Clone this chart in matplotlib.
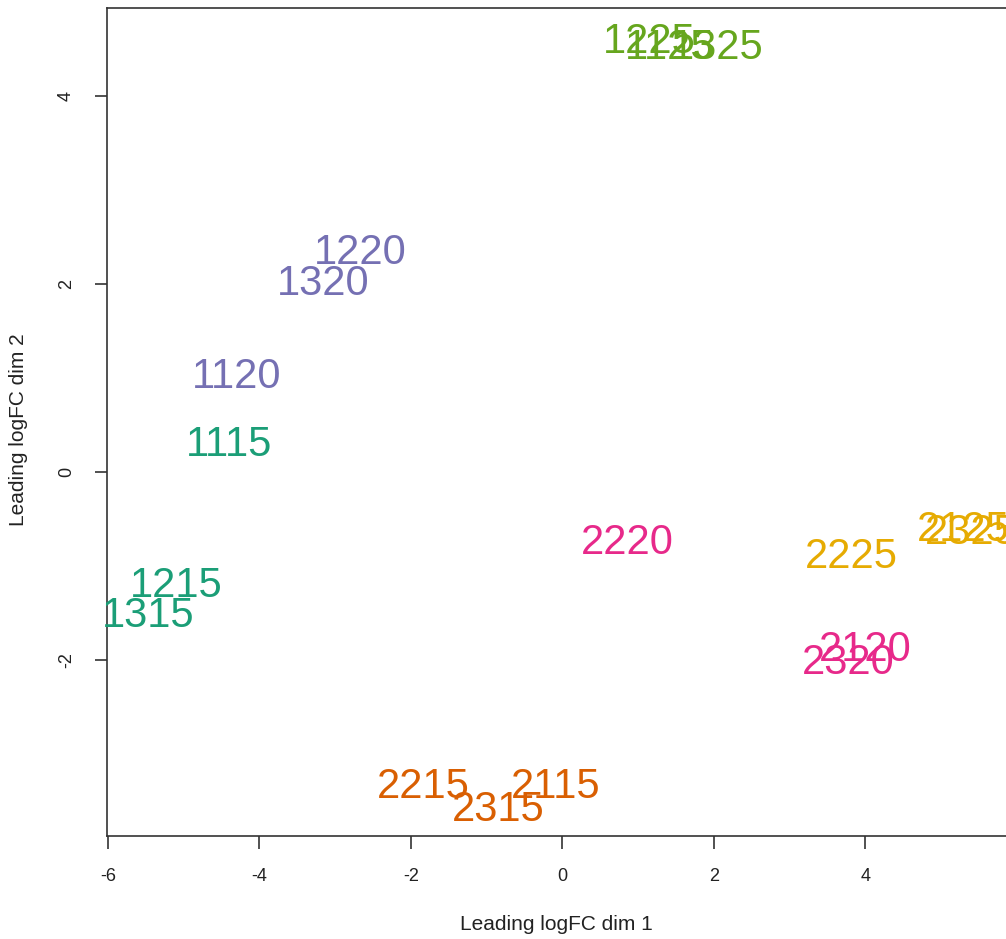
import matplotlib
matplotlib.use("Agg")
import matplotlib.pyplot as plt

labels = ["1115", "1215", "1315",
          "1120", "1220", "1320",
          "1125", "1225", "1325",
          "2115", "2215", "2315",
          "2120", "2220", "2320",
          "2125", "2225", "2325"]
dim1 = [-4.40, -5.09, -5.47,
        -4.30, -2.67, -3.15,
        1.42, 1.155, 2.05,
        -0.09, -1.84, -0.85,
        4.00, 0.865, 3.77,
        5.29, 3.82, 5.40]
dim2 = [0.29, -1.21, -1.53,
        1.01, 2.33, 2.00,
        4.52, 4.58, 4.52,
        -3.35, -3.35, -3.60,
        -1.90, -0.76, -2.03,
        -0.62, -0.905, -0.65]
groups = ["a", "a", "a", "b", "b", "b", "c", "c", "c",
          "d", "d", "d", "e", "e", "e", "f", "f", "f"]
palette = {"a": "#1B9E77", "b": "#7570B3", "c": "#66A61E",
           "d": "#D95F02", "e": "#E7298A", "f": "#E6AB02"}
xticks = [-6, -4, -2, 0, 2, 4]
yticks = [-2, 0, 2, 4]

plt.rcParams['font.family'] = ['Liberation Sans', 'DejaVu Sans']

W, H = 1006, 939
fig = plt.figure(figsize=(W / 100, H / 100), dpi=100)
left_px, right_px, top_px, bottom_px = 107, 1100, 8, 836
ax = fig.add_axes([left_px / W, 1 - bottom_px / H,
                   (right_px - left_px) / W, (bottom_px - top_px) / H])

xs = 75.75  # px per unit
ys = 93.9
x0 = -6.01
ax.set_xlim(x0, x0 + (right_px - left_px) / xs)
y_bottom = (472 - bottom_px) / ys
y_top = (472 - top_px) / ys
ax.set_ylim(y_bottom, y_top)

for lab, x, y, g in zip(labels, dim1, dim2, groups):
    ax.text(x, y, lab, color=palette[g], fontsize=30,
            ha="center", va="center", clip_on=False)

ax.set_xticks(xticks)
ax.set_yticks(yticks)
ax.set_xticklabels([str(t) for t in xticks])
ax.set_yticklabels([str(t) for t in yticks], rotation=90, va="center")
ax.tick_params(axis="both", direction="out", length=9, width=1.2,
               labelsize=13, pad=14, color="#333333", labelcolor="#222222")
for sp in ax.spines.values():
    sp.set_linewidth(1.2)
    sp.set_color("#333333")

fig.text(556 / W, 1 - 925 / H, "Leading logFC dim 1", ha="center", va="center",
         fontsize=15, color="#222222")
fig.text(19 / W, 1 - 430 / H, "Leading logFC dim 2", ha="center", va="center",
         rotation=90, fontsize=15, color="#222222")

fig.savefig("out.png", dpi=100)
